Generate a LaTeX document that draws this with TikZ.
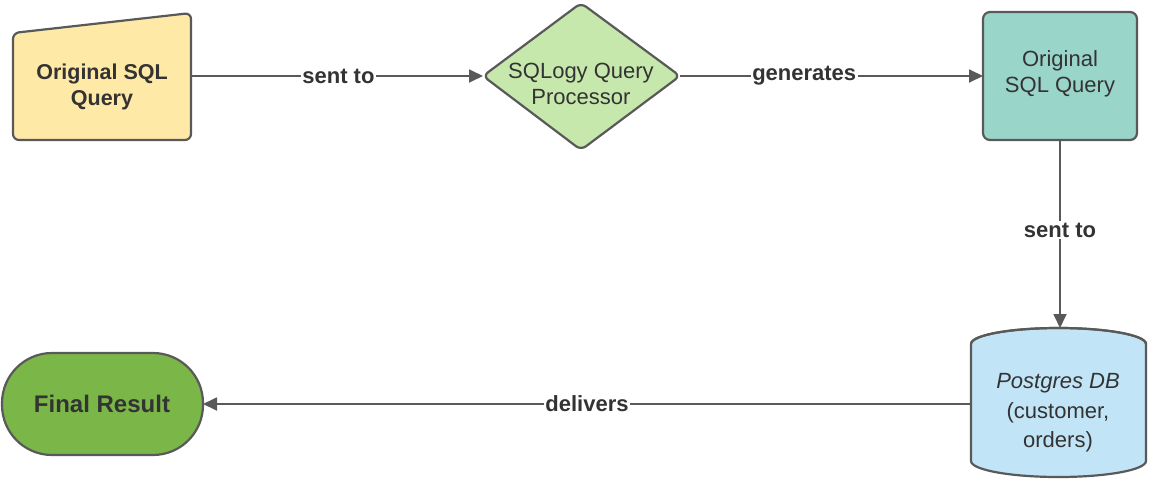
\documentclass[tikz,border=0pt]{standalone}
\usepackage{fontspec}
\setmainfont{Liberation Sans}
\usetikzlibrary{shapes.geometric,arrows.meta}
\definecolor{edgec}{HTML}{595959}
\definecolor{txt}{HTML}{333333}
\definecolor{yel}{HTML}{FFE9A6}
\definecolor{lgreen}{HTML}{C7E8AC}
\definecolor{teal}{HTML}{9AD5CA}
\definecolor{lblue}{HTML}{C1E4F7}
\definecolor{dgreen}{HTML}{7AB648}
\tikzset{
  shapeline/.style={draw=edgec,line width=2.2pt,line join=round},
  conn/.style={draw=edgec,line width=1.8pt,-{Triangle[length=14pt,width=13pt]}},
  lbl/.style={fill=white,text=txt,font=\fontsize{22}{26}\selectfont\bfseries,inner sep=1.5pt},
  body/.style={text=txt,align=center,font=\fontsize{22}{26}\selectfont},
}
\begin{document}
\begin{tikzpicture}[x=1pt,y=-1pt]
\useasboundingbox (0,0) rectangle (1149,480);
% manual input shape
\draw[shapeline,fill=yel,rounded corners=6pt] (13,33) -- (191,13) -- (191,140) -- (13,140) -- cycle;
\node[body,font=\fontsize{21.5}{26}\selectfont\bfseries] (inp) at (102,87) {Original SQL\\Query};
\coordinate (inpE) at (191,76);
% diamond
\draw[shapeline,fill=lgreen,rounded corners=6pt] (483,76) -- (581,3) -- (680,76) -- (581,150) -- cycle;
\node[body] (proc) at (581,84) {SQLogy Query\\Processor};
\coordinate (procW) at (483,76);
\coordinate (procE) at (680,76);
% teal box
\draw[shapeline,fill=teal,rounded corners=7pt] (983,12) rectangle (1137,140);
\node[body] (gen) at (1060,74) {Original\\SQL Query};
\coordinate (genW) at (983,76);
\coordinate (genS) at (1060,140);
% cylinder
\draw[shapeline,fill=lblue] (971,344) -- (971,461) arc[start angle=180,end angle=360,x radius=87.5,y radius=-16] -- (1146,344) arc[start angle=0,end angle=180,x radius=87.5,y radius=-16] -- cycle;
\draw[shapeline] (971,344) arc[start angle=180,end angle=360,x radius=87.5,y radius=16];
\node[body,font=\fontsize{22}{29.5}\selectfont] (db) at (1058,413) {\itshape Postgres DB\\(customer,\\orders)};
\coordinate (dbN) at (1060,328);
\coordinate (dbW) at (971,404);
% final result
\draw[shapeline,fill=dgreen,rounded corners=50pt] (2,353) rectangle (203,455);
\node[body,font=\fontsize{24}{28}\selectfont\bfseries] (res) at (102,404) {Final Result};
\coordinate (resE) at (203,404);
% connectors
\draw[conn] (inpE) -- node[lbl,pos=0.505]{sent to} (procW);
\draw[conn] (procE) -- node[lbl,pos=0.41]{generates} (genW);
\draw[conn] (genS) -- node[lbl,pos=0.48]{sent to} (dbN);
\draw[conn] (dbW) -- node[lbl,pos=0.5]{delivers} (resE);
\end{tikzpicture}
\end{document}
